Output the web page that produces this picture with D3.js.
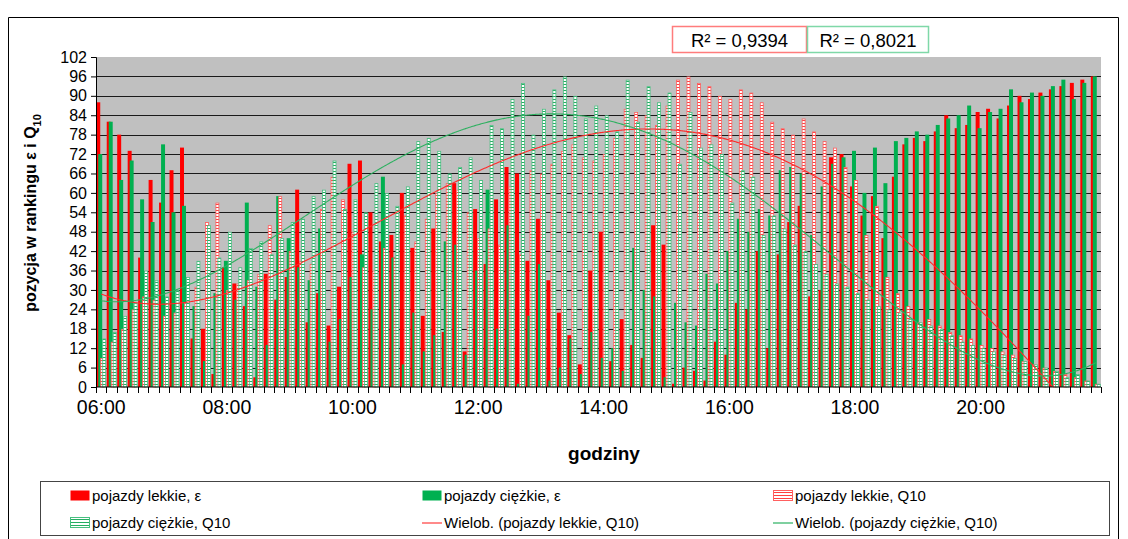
<!DOCTYPE html>
<html>
<head>
<meta charset="utf-8">
<script src="https://cdn.jsdelivr.net/npm/d3@7"></script>
<style>
  html, body { margin: 0; padding: 0; background: #ffffff; }
  svg { display: block; font-family: "Liberation Sans", Arial, sans-serif; }
</style>
</head>
<body>
<svg id="chart" width="1128" height="539"></svg>
<script>
// 10-minute intervals, 06:00 - 21:50
const categories = [
  "06:00","06:10","06:20","06:30","06:40","06:50",
  "07:00","07:10","07:20","07:30","07:40","07:50",
  "08:00","08:10","08:20","08:30","08:40","08:50",
  "09:00","09:10","09:20","09:30","09:40","09:50",
  "10:00","10:10","10:20","10:30","10:40","10:50",
  "11:00","11:10","11:20","11:30","11:40","11:50",
  "12:00","12:10","12:20","12:30","12:40","12:50",
  "13:00","13:10","13:20","13:30","13:40","13:50",
  "14:00","14:10","14:20","14:30","14:40","14:50",
  "15:00","15:10","15:20","15:30","15:40","15:50",
  "16:00","16:10","16:20","16:30","16:40","16:50",
  "17:00","17:10","17:20","17:30","17:40","17:50",
  "18:00","18:10","18:20","18:30","18:40","18:50",
  "19:00","19:10","19:20","19:30","19:40","19:50",
  "20:00","20:10","20:20","20:30","20:40","20:50",
  "21:00","21:10","21:20","21:30","21:40","21:50"
];
const xTickLabels = ["06:00","08:00","10:00","12:00","14:00","16:00","18:00","20:00"];
const yTicks = [0,6,12,18,24,30,36,42,48,54,60,66,72,78,84,90,96,102];

// ranking positions (1..96)
const lightEps = [
  88,82,78,73,40,64,57,67,74,15,18,4,37,32,25,3,35,27,34,61,20,29,19,31,
  69,70,54,45,47,60,43,22,49,17,63,11,55,38,58,68,66,39,52,33,23,16,7,36,
  48,8,21,13,9,50,44,1,6,5,2,14,10,26,24,42,12,41,51,56,28,30,71,72,
  62,53,59,46,65,75,77,76,79,84,80,81,85,86,83,87,90,89,91,92,93,94,95,96
];
const heavyEps = [
  72,82,64,70,58,51,75,54,56,25,8,29,39,27,57,31,13,59,46,37,33,49,14,21,
  34,41,24,65,40,7,23,11,16,45,44,10,36,61,18,50,1,22,38,2,6,15,4,17,
  9,12,5,43,30,28,3,26,20,19,35,32,42,52,48,55,53,67,68,66,47,62,69,71,
  73,60,74,63,76,77,79,78,81,83,84,87,80,85,86,92,88,91,90,93,95,89,94,96
];
const lightQ10 = [
  9,14,18,24,28,27,22,23,26,31,51,57,30,32,33,35,50,59,42,39,38,55,65,58,
  48,37,36,43,40,53,45,52,60,63,61,54,46,49,44,62,41,67,66,69,73,75,71,70,
  72,77,86,85,84,81,87,95,96,94,93,90,89,92,91,88,82,80,78,83,79,76,74,68,
  64,47,56,34,29,25,20,21,19,17,16,15,13,12,11,10,8,7,6,5,4,3,2,1
];
const heavyQ10 = [
  15,17,22,26,36,33,28,30,34,39,50,40,48,37,43,45,41,46,51,52,59,61,70,55,
  58,54,63,60,56,62,76,77,73,66,68,71,64,81,80,89,94,78,86,92,96,90,83,87,
  84,79,95,82,93,88,91,69,85,74,75,72,57,67,65,47,53,49,44,42,38,35,32,31,
  29,27,25,24,23,21,20,19,18,16,14,13,12,11,10,9,8,7,6,5,3,4,2,1
];
const r2Labels = ["R² = 0,9394", "R² = 0,8021"];
const legendLabels = [
  "pojazdy lekkie, ε", "pojazdy ciężkie, ε", "pojazdy lekkie, Q10",
  "pojazdy ciężkie, Q10", "Wielob. (pojazdy lekkie, Q10)", "Wielob. (pojazdy ciężkie, Q10)"
];

const RED = "#ff0000", GREEN = "#00b050";
const plot = { left: 96, right: 1101, top: 57, bottom: 387 };

const svg = d3.select("#chart");
const defs = svg.append("defs");

function hatch(id, line, bg) {
  const p = defs.append("pattern").attr("id", id)
    .attr("patternUnits", "userSpaceOnUse").attr("width", 4).attr("height", 3);
  p.append("rect").attr("width", 4).attr("height", 3).attr("fill", bg);
  p.append("rect").attr("width", 4).attr("height", 1).attr("fill", line);
}
hatch("hatchRed", "#ff4040", "#ffffff");
hatch("hatchGreen", "#25ad62", "#ffffff");
defs.append("clipPath").attr("id", "plotClip").append("rect")
  .attr("x", plot.left).attr("y", plot.top)
  .attr("width", plot.right - plot.left).attr("height", plot.bottom - plot.top);

const x = d3.scaleBand().domain(categories).range([plot.left, plot.right]).padding(0);
const y = d3.scaleLinear().domain([0, 102]).range([plot.bottom, plot.top]);
const cw = x.bandwidth();

// outer frame
svg.append("path").attr("d", "M8.5,539 V17.5 H1118.5 V539")
  .attr("fill", "none").attr("stroke", "#000").attr("stroke-width", 1);

// plot background and gridlines
svg.append("rect").attr("x", plot.left).attr("y", plot.top)
  .attr("width", plot.right - plot.left).attr("height", plot.bottom - plot.top)
  .attr("fill", "#c0c0c0");
svg.append("g").selectAll("line").data(yTicks.filter(v => v > 0 && v < 102)).join("line")
  .attr("x1", plot.left).attr("x2", plot.right)
  .attr("y1", d => Math.round(y(d)) + 0.5).attr("y2", d => Math.round(y(d)) + 0.5)
  .attr("stroke", "#1a1a1a").attr("stroke-width", 1.2);

// bars: four overlapping series per category
const barW = cw * 0.38, step = barW / 2, off = (cw - (barW + 3 * step)) / 2;
const series = [
  { data: lightEps, fill: RED, stroke: "none" },
  { data: heavyEps, fill: GREEN, stroke: "none" },
  { data: lightQ10, fill: "url(#hatchRed)", stroke: "#ff6060" },
  { data: heavyQ10, fill: "url(#hatchGreen)", stroke: "#48c080" }
];
const barsG = svg.append("g");
series.forEach((s, si) => {
  const outlined = s.stroke !== "none";
  barsG.append("g").selectAll("rect").data(s.data).join("rect")
    .attr("x", (d, i) => x(categories[i]) + off + si * step + (outlined ? 0.5 : 0))
    .attr("y", d => y(d) + (outlined ? 0.5 : 0))
    .attr("width", barW - (outlined ? 1 : 0))
    .attr("height", d => Math.max(0, y(0) - y(d) - (outlined ? 0.5 : 0)))
    .attr("fill", s.fill)
    .attr("stroke", s.stroke).attr("stroke-width", 0.8);
});

// 4th-order polynomial trend (least squares on category index 1..n)
function polyFit(ys, order) {
  const n = ys.length, c = (n + 1) / 2, h = (n - 1) / 2;
  const t = ys.map((_, i) => (i + 1 - c) / h);
  const m = order + 1;
  const A = Array.from({ length: m }, () => new Array(m + 1).fill(0));
  for (let i = 0; i < n; i++) {
    const pw = [1];
    for (let k = 1; k < 2 * m; k++) pw.push(pw[k - 1] * t[i]);
    for (let r = 0; r < m; r++) {
      for (let q = 0; q < m; q++) A[r][q] += pw[r + q];
      A[r][m] += ys[i] * pw[r];
    }
  }
  for (let col = 0; col < m; col++) {
    let piv = col;
    for (let r = col + 1; r < m; r++) if (Math.abs(A[r][col]) > Math.abs(A[piv][col])) piv = r;
    [A[col], A[piv]] = [A[piv], A[col]];
    for (let r = 0; r < m; r++) {
      if (r === col) continue;
      const f = A[r][col] / A[col][col];
      for (let q = col; q <= m; q++) A[r][q] -= f * A[col][q];
    }
  }
  const coef = A.map((row, r) => row[m] / row[r]);
  return xv => { const tv = (xv - c) / h; let s = 0, p = 1; for (const k of coef) { s += k * p; p *= tv; } return s; };
}

const trendOrder = 4;
const trends = [
  { data: lightQ10, color: "#ff2a2a" },
  { data: heavyQ10, color: "#2eb060" }
];
const trendG = svg.append("g").attr("clip-path", "url(#plotClip)");
trends.forEach(tr => {
  const f = polyFit(tr.data, trendOrder);
  const pts = d3.range(1, categories.length + 0.001, 0.1)
    .map(k => [x(categories[0]) + cw / 2 + (k - 1) * cw, y(f(k))]);
  trendG.append("path").attr("d", d3.line()(pts))
    .attr("fill", "none").attr("stroke", tr.color).attr("stroke-width", 1.1);
});

// axes
const yAxis = d3.axisLeft(y).tickValues(yTicks).tickSize(5).tickPadding(4);
const gy = svg.append("g").attr("transform", `translate(${plot.left},0)`).call(yAxis);
gy.selectAll("text").attr("font-size", 16).attr("fill", "#000");
gy.selectAll("line, path").attr("stroke", "#000");

const gx = svg.append("g").attr("transform", `translate(0,${plot.bottom})`);
gx.append("line").attr("x1", plot.left).attr("x2", plot.right).attr("stroke", "#000");
gx.selectAll(".tk").data(d3.range(categories.length + 1)).join("line")
  .attr("x1", i => Math.round(plot.left + i * cw) + 0.5).attr("x2", i => Math.round(plot.left + i * cw) + 0.5)
  .attr("y1", 0).attr("y2", 6).attr("stroke", "#000");
gx.selectAll("text").data(xTickLabels).join("text")
  .attr("x", d => x(d) + cw / 2).attr("y", 27)
  .attr("text-anchor", "middle").attr("font-size", 19.5).text(d => d);

// axis titles
svg.append("text").attr("x", 604).attr("y", 460).attr("text-anchor", "middle")
  .attr("font-size", 19).attr("font-weight", "bold").text("godziny");
const yt = svg.append("text").attr("transform", "translate(36,213) rotate(-90)")
  .attr("text-anchor", "middle").attr("font-size", 16).attr("font-weight", "bold");
yt.append("tspan").text("pozycja w rankingu ε i Q");
yt.append("tspan").attr("font-size", 11).attr("dy", 5).text("10");

// R² boxes
const r2Boxes = [
  { x: 672, w: 134, stroke: "#ff7c7c", text: r2Labels[0] },
  { x: 807, w: 121, stroke: "#7fd8a8", text: r2Labels[1] }
];
r2Boxes.forEach(b => {
  svg.append("rect").attr("x", b.x + 0.5).attr("y", 26.5).attr("width", b.w).attr("height", 26)
    .attr("fill", "#fff").attr("stroke", b.stroke).attr("stroke-width", 1.5);
  svg.append("text").attr("x", b.x + b.w / 2 + 0.5).attr("y", 46.5).attr("text-anchor", "middle")
    .attr("font-size", 18.5).text(b.text);
});

// legend
svg.append("rect").attr("x", 40.5).attr("y", 481.5).attr("width", 1069).attr("height", 54)
  .attr("fill", "#fff").attr("stroke", "#444");
const legCols = [70, 422, 773], legRows = [496, 523];
const legendItems = [
  { type: "box", fill: RED, stroke: "none" },
  { type: "box", fill: GREEN, stroke: "none" },
  { type: "box", fill: "url(#hatchRed)", stroke: "#ff6060" },
  { type: "box", fill: "url(#hatchGreen)", stroke: "#48c080" },
  { type: "line", color: "#ff8a8a" },
  { type: "line", color: "#7fd0a0" }
];
legendItems.forEach((it, i) => {
  const lx = legCols[i % 3], ly = legRows[Math.floor(i / 3)];
  if (it.type === "box") {
    svg.append("rect").attr("x", lx + 0.5).attr("y", ly - 5.5).attr("width", 19).attr("height", 10)
      .attr("fill", it.fill).attr("stroke", it.stroke);
  } else {
    svg.append("line").attr("x1", lx).attr("x2", lx + 20).attr("y1", ly).attr("y2", ly)
      .attr("stroke", it.color).attr("stroke-width", 2);
  }
  svg.append("text").attr("x", lx + 22).attr("y", ly + 5).attr("font-size", 15).text(legendLabels[i]);
});
</script>
</body>
</html>
